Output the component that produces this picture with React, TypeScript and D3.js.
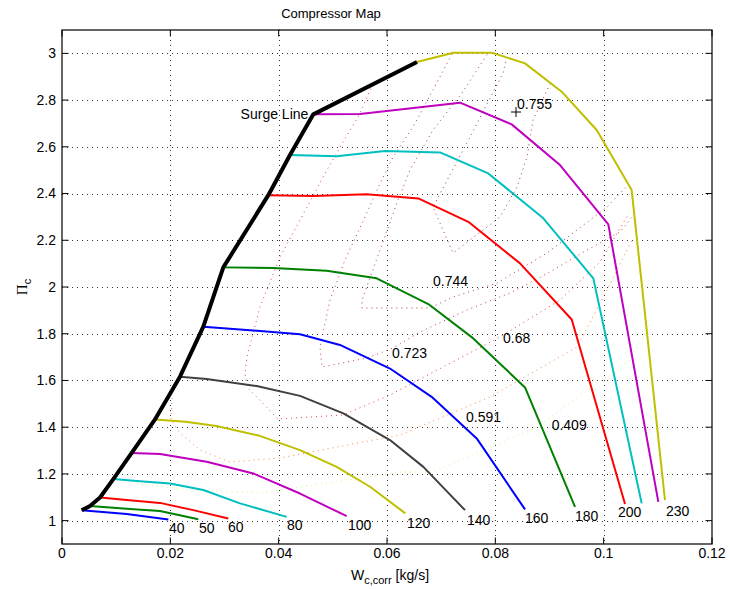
import React from 'react';
import * as d3 from 'd3';

// Canvas and plot box
const WIDTH = 730;
const HEIGHT = 589;
const PLOT = { left: 62, right: 712, top: 30, bottom: 544 };

// Axes
const xDomain: [number, number] = [0, 0.12];
const yDomain: [number, number] = [0.9, 3.1];
const xTicks = [0, 0.02, 0.04, 0.06, 0.08, 0.1, 0.12];
const xTickLabels = ['0', '0.02', '0.04', '0.06', '0.08', '0.1', '0.12'];
const yTicks = [1, 1.2, 1.4, 1.6, 1.8, 2, 2.2, 2.4, 2.6, 2.8, 3];
const yTickLabels = ['1', '1.2', '1.4', '1.6', '1.8', '2', '2.2', '2.4', '2.6', '2.8', '3'];

// Corrected speed lines (first point of each line lies on the surge line)
const speeds = [40, 50, 60, 80, 100, 120, 140, 160, 180, 200, 210, 220, 230];
const speedFlow: number[][] = [
  [0.00364, 0.01194, 0.01963],
  [0.00517, 0.01194, 0.01809, 0.02516],
  [0.00702, 0.01194, 0.01809, 0.02424, 0.0307],
  [0.00947, 0.01379, 0.01994, 0.02609, 0.03286, 0.04148],
  [0.01287, 0.01809, 0.02671, 0.03532, 0.04394, 0.05256],
  [0.01717, 0.02283, 0.02849, 0.03649, 0.04394, 0.05071, 0.05687, 0.06339],
  [0.02178, 0.02671, 0.03594, 0.04394, 0.05194, 0.06055, 0.06671, 0.0744],
  [0.02609, 0.03471, 0.04394, 0.05132, 0.06055, 0.06824, 0.07656, 0.08548],
  [0.02978, 0.03901, 0.04886, 0.05809, 0.06763, 0.07593, 0.08548, 0.09471],
  [0.03809, 0.0464, 0.05625, 0.06578, 0.07501, 0.08456, 0.0941, 0.10394],
  [0.04209, 0.05071, 0.05963, 0.06978, 0.0787, 0.08886, 0.09809, 0.10702],
  [0.0464, 0.05502, 0.07348, 0.08302, 0.09194, 0.10086, 0.11009],
  [0.06554, 0.07224, 0.07933, 0.08548, 0.09225, 0.09871, 0.10517, 0.11132],
];
const speedPR: number[][] = [
  [1.044, 1.028, 1.005],
  [1.063, 1.051, 1.041, 1.006],
  [1.099, 1.088, 1.076, 1.045, 1.009],
  [1.178, 1.17, 1.159, 1.131, 1.074, 1.016],
  [1.29, 1.285, 1.252, 1.202, 1.116, 1.019],
  [1.433, 1.423, 1.405, 1.363, 1.302, 1.23, 1.145, 1.031],
  [1.616, 1.606, 1.576, 1.534, 1.459, 1.345, 1.23, 1.045],
  [1.83, 1.815, 1.798, 1.752, 1.651, 1.53, 1.352, 1.048],
  [2.084, 2.081, 2.07, 2.037, 1.927, 1.78, 1.57, 1.059],
  [2.393, 2.39, 2.397, 2.379, 2.279, 2.101, 1.861, 1.071],
  [2.565, 2.56, 2.582, 2.576, 2.486, 2.294, 2.037, 1.074],
  [2.739, 2.74, 2.789, 2.696, 2.522, 2.268, 1.08],
  [2.963, 3.003, 3.003, 2.957, 2.836, 2.672, 2.415, 1.088],
];
const speedColors = [
  '#0000ff', '#008000', '#ff0000', '#00bfbf', '#bf00bf', '#bfbf00', '#404040',
  '#0000ff', '#008000', '#ff0000', '#00bfbf', '#bf00bf', '#bfbf00',
];

// Speed labels near the choke end of each line
const speedLabelText = ['40', '50', '60', '80', '100', '120', '140', '160', '180', '200', '230'];
const speedLabelFlow = [0.01975, 0.02529, 0.03065, 0.04154, 0.0528, 0.06369, 0.07477, 0.08548, 0.09471, 0.10265, 0.11151];
const speedLabelPR = [0.968, 0.968, 0.972, 0.981, 0.981, 0.991, 1.002, 1.012, 1.019, 1.036, 1.041];

// Isentropic efficiency contours
const etaLevels = [0.409, 0.591, 0.68, 0.723, 0.744, 0.755];
const etaFlow: number[][] = [
  [0.01385, 0.02419, 0.03655, 0.04265, 0.05262, 0.0624, 0.06849, 0.08769, 0.10486, 0.10855],
  [0.02031, 0.02012, 0.02178, 0.02548, 0.03102, 0.04025, 0.05077, 0.0624, 0.07902, 0.09508, 0.10062, 0.10523],
  [0.05742, 0.05465, 0.05188, 0.04892, 0.04394, 0.04025, 0.03655, 0.03415, 0.03378, 0.03415, 0.03988, 0.05188, 0.06055, 0.08086, 0.09194, 0.09932, 0.10449],
  [0.072, 0.06849, 0.0648, 0.06111, 0.05815, 0.05594, 0.05225, 0.04948, 0.04763, 0.048, 0.05631, 0.06111, 0.06609, 0.07477, 0.08271, 0.09009, 0.09692, 0.10302, 0.1056],
  [0.07846, 0.07385, 0.06849, 0.06425, 0.06203, 0.05871, 0.05538, 0.05538, 0.06794, 0.07219, 0.08031, 0.08954, 0.10062, 0.10449],
  [0.08215, 0.08142, 0.07532, 0.06849, 0.07219, 0.08086, 0.084, 0.08585, 0.08695, 0.09009],
];
const etaPR: number[][] = [
  [1.1568, 1.1311, 1.1183, 1.1397, 1.1739, 1.2082, 1.2082, 1.4008, 1.6876, 1.8374],
  [1.5249, 1.4307, 1.3753, 1.3023, 1.251, 1.2681, 1.3152, 1.3665, 1.5292, 1.7432, 1.9872, 2.2012],
  [2.8689, 2.7276, 2.6206, 2.5008, 2.2868, 2.1284, 1.9144, 1.7004, 1.6319, 1.572, 1.435, 1.4521, 1.5378, 1.786, 1.9444, 2.107, 2.3082],
  [2.9973, 2.8432, 2.6848, 2.5564, 2.4152, 2.2996, 2.1156, 1.9444, 1.7432, 1.6576, 1.6961, 1.7389, 1.8074, 1.9016, 1.9743, 2.0642, 2.1584, 2.2354, 2.3082],
  [2.995, 2.8303, 2.672, 2.5008, 2.3724, 2.1584, 1.9444, 1.9102, 1.9102, 1.9572, 2.0171, 2.1455, 2.3424, 2.4366],
  [2.9844, 2.9159, 2.642, 2.3424, 2.1455, 2.2996, 2.428, 2.5564, 2.7148, 2.8689],
];
const etaLabelText = ['0.409', '0.591', '0.68', '0.723', '0.744', '0.755'];
const etaLabelFlow = [0.0904, 0.07458, 0.08142, 0.06092, 0.06849, 0.084];
const etaLabelPR = [1.4093, 1.4436, 1.7817, 1.7175, 2.0257, 2.7833];
const etaPeak = { flow: 0.08382, pr: 2.749 };

// Surge line annotation anchor (right-aligned text)
const surgeLabel = { text: 'Surge Line', flow: 0.0464, pr: 2.739 };

const FONT = "'Liberation Sans', Arial, Helvetica, sans-serif";

// Matlab-style jet colormap
function jet(t: number): string {
  const c = (v: number) => Math.max(0, Math.min(1, v));
  const r = c(1.5 - Math.abs(4 * t - 3));
  const g = c(1.5 - Math.abs(4 * t - 2));
  const b = c(1.5 - Math.abs(4 * t - 1));
  return d3.rgb(r * 255, g * 255, b * 255).formatHex();
}

export default function App() {
  const x = d3.scaleLinear().domain(xDomain).range([PLOT.left, PLOT.right]);
  const y = d3.scaleLinear().domain(yDomain).range([PLOT.bottom, PLOT.top]);
  const etaColor = d3.scaleLinear().domain([0, d3.max(etaLevels) as number]).range([0, 1]);

  const line = d3
    .line<[number, number]>()
    .x((d) => x(d[0]))
    .y((d) => y(d[1]));

  const zip = (a: number[], b: number[]) => a.map((v, i) => [v, b[i]] as [number, number]);
  const surgePts = speedFlow.map((f, i) => [f[0], speedPR[i][0]] as [number, number]);
  const tickLen = 6.5;

  return (
    <svg
      width={WIDTH}
      height={HEIGHT}
      style={{ position: 'absolute', left: 0, top: 0, background: '#fff' }}
      fontFamily={FONT}
    >
      <rect x={0} y={0} width={WIDTH} height={HEIGHT} fill="#fff" />

      {/* dotted grid */}
      <g stroke="#333" strokeWidth={1} strokeDasharray="1,4" shapeRendering="crispEdges">
        {xTicks.slice(1, -1).map((t) => (
          <line key={'gx' + t} x1={Math.round(x(t)) + 0.5} x2={Math.round(x(t)) + 0.5} y1={PLOT.top} y2={PLOT.bottom} />
        ))}
        {yTicks.map((t) => (
          <line key={'gy' + t} x1={PLOT.left} x2={PLOT.right} y1={Math.round(y(t)) + 0.5} y2={Math.round(y(t)) + 0.5} />
        ))}
      </g>

      {/* efficiency contours */}
      <g fill="none" strokeWidth={1} strokeDasharray="1,4" opacity={0.75}>
        {etaLevels.map((lv, i) => (
          <path key={'eta' + lv} d={line(zip(etaFlow[i], etaPR[i])) || ''} stroke={jet(etaColor(lv))} />
        ))}
      </g>

      {/* speed lines */}
      <g fill="none" strokeWidth={2} strokeLinejoin="round">
        {speeds.map((s, i) => (
          <path key={'n' + s} d={line(zip(speedFlow[i], speedPR[i])) || ''} stroke={speedColors[i]} />
        ))}
      </g>

      {/* surge line */}
      <path d={line(surgePts) || ''} fill="none" stroke="#000" strokeWidth={4} strokeLinejoin="round" />

      {/* speed labels */}
      <g fontSize={14} fill="#000">
        {speedLabelText.map((t, i) => (
          <text key={'sl' + t} x={x(speedLabelFlow[i])} y={y(speedLabelPR[i])} dy="0.35em">
            {t}
          </text>
        ))}
      </g>

      {/* efficiency labels */}
      <g fontSize={14} fill="#000">
        {etaLabelText.map((t, i) => (
          <text key={'el' + t} x={x(etaLabelFlow[i])} y={y(etaLabelPR[i])} dy="0.35em">
            {t}
          </text>
        ))}
      </g>
      <g stroke="#000" strokeWidth={1}>
        <line x1={x(etaPeak.flow) - 5} x2={x(etaPeak.flow) + 5} y1={y(etaPeak.pr)} y2={y(etaPeak.pr)} />
        <line x1={x(etaPeak.flow)} x2={x(etaPeak.flow)} y1={y(etaPeak.pr) - 5} y2={y(etaPeak.pr) + 5} />
      </g>

      <text x={x(surgeLabel.flow) - 5} y={y(surgeLabel.pr)} dy="0.35em" textAnchor="end" fontSize={14} fill="#000">
        {surgeLabel.text}
      </text>

      {/* axes box and ticks */}
      <rect
        x={PLOT.left}
        y={PLOT.top}
        width={PLOT.right - PLOT.left}
        height={PLOT.bottom - PLOT.top}
        fill="none"
        stroke="#000"
        strokeWidth={1.2}
      />
      <g stroke="#000" strokeWidth={1}>
        {xTicks.map((t) => (
          <g key={'tx' + t}>
            <line x1={x(t)} x2={x(t)} y1={PLOT.bottom} y2={PLOT.bottom - tickLen} />
            <line x1={x(t)} x2={x(t)} y1={PLOT.top} y2={PLOT.top + tickLen} />
          </g>
        ))}
        {yTicks.map((t) => (
          <g key={'ty' + t}>
            <line x1={PLOT.left} x2={PLOT.left + tickLen} y1={y(t)} y2={y(t)} />
            <line x1={PLOT.right} x2={PLOT.right - tickLen} y1={y(t)} y2={y(t)} />
          </g>
        ))}
      </g>

      {/* tick labels */}
      <g fontSize={14} fill="#000">
        {xTicks.map((t, i) => (
          <text key={'xl' + t} x={x(t)} y={PLOT.bottom + 14} textAnchor="middle">
            {xTickLabels[i]}
          </text>
        ))}
        {yTicks.map((t, i) => (
          <text key={'yl' + t} x={PLOT.left - 6} y={y(t)} dy="0.35em" textAnchor="end">
            {yTickLabels[i]}
          </text>
        ))}
      </g>

      {/* title */}
      <text x={331} y={18} textAnchor="middle" fontSize={13} fill="#000">
        Compressor Map
      </text>

      {/* x label */}
      <text x={390} y={580} textAnchor="middle" fontSize={14} fill="#000">
        W<tspan fontSize={11} dy={4}>c,corr</tspan>
        <tspan dy={-4}> [kg/s]</tspan>
      </text>

      {/* y label */}
      <text transform="translate(27,287) rotate(-90)" textAnchor="middle" fontSize={15} fill="#000">
        <tspan fontFamily="'Liberation Serif', 'DejaVu Serif', serif">Π</tspan>
        <tspan fontSize={11} dy={4}>c</tspan>
      </text>
    </svg>
  );
}
